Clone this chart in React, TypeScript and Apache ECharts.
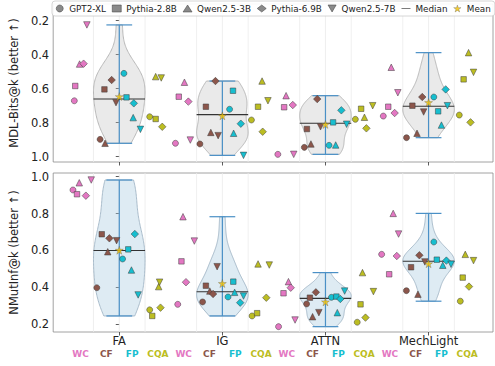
import React, { useEffect, useRef } from "react";
import * as echarts from "echarts";

const METHODS = ["FA", "IG", "ATTN", "MechLight"];
const SUBS = ["WC", "CF", "FP", "CQA"];
const SUB_COLORS = ["#e377c2", "#8c564b", "#17becf", "#bcbd22"];
const SUB_LABEL_OFFSETS = [-0.375, -0.125, 0.125, 0.375];
const MODELS = ["GPT2-XL", "Pythia-2.8B", "Qwen2.5-3B", "Pythia-6.9B", "Qwen2.5-7B"];
const INV_TRI = "path://M0,0L10,0L5,8.66Z";
const STAR = "path://M5,0L6.18,3.6L10,3.6L6.9,5.9L8.1,9.5L5,7.3L1.9,9.5L3.1,5.9L0,3.6L3.82,3.6Z";
const MODEL_SYMBOLS = ["circle", "rect", "triangle", "diamond", INV_TRI];
const MODEL_SIZES = [6, 5.5, 6.5, 7.5, 6.5];
const Y_TICKS = [0.2, 0.4, 0.6, 0.8, 1.0];
const GRID_XS = [-0.25, 0, 0.25, 0.75, 1, 1.25, 1.75, 2, 2.25, 2.75, 3, 3.25];

// values[sub][model], models: GPT2-XL, Pythia-2.8B, Qwen2.5-3B, Pythia-6.9B, Qwen2.5-7B
const MDL_FA = [[0.671, 0.584, 0.455, 0.453, 0.225], [0.898, 0.604, 0.921, 0.549, 0.682], [0.51, 0.651, 0.77, 0.686, 0.839], [0.765, 0.778, 0.529, 0.824, 0.537]];
const MDL_IG = [[0.921, 0.647, 0.562, 0.676, 0.902], [0.925, 0.706, 0.857, 0.555, 0.876], [0.721, 0.612, 0.862, 0.806, 0.992], [0.784, 0.706, 0.555, 0.853, 0.671]];
const MDL_ATTN = [[0.986, 0.709, 0.641, 0.696, 0.986], [0.945, 0.837, 0.925, 0.661, 0.824], [0.933, 0.798, 0.931, 0.727, 0.809], [0.78, 0.718, 0.768, 0.833, 0.7]];
const MDL_MECH = [[0.761, 0.706, 0.474, 0.743, 0.624], [0.888, 0.7, 0.862, 0.649, 0.737], [0.649, 0.733, 0.814, 0.604, 0.7], [0.755, 0.545, 0.388, 0.798, 0.504]];

const NMI_FA = [[0.928, 0.905, 0.967, 0.897, 0.982], [0.398, 0.688, 0.593, 0.666, 0.653], [0.554, 0.606, 0.494, 0.689, 0.359], [0.278, 0.245, 0.404, 0.29, 0.428]];
const NMI_IG = [[0.308, 0.541, 0.783, 0.428, 0.651], [0.321, 0.409, 0.38, 0.364, 0.512], [0.348, 0.431, 0.373, 0.317, 0.353], [0.245, 0.26, 0.527, 0.344, 0.521]];
const NMI_ATTN = [[0.187, 0.368, 0.431, 0.398, 0.223], [0.31, 0.344, 0.241, 0.373, 0.263], [0.346, 0.35, 0.263, 0.337, 0.38], [0.211, 0.308, 0.48, 0.236, 0.377]];
const NMI_MECH = [[0.579, 0.471, 0.801, 0.57, 0.689], [0.382, 0.509, 0.363, 0.574, 0.538], [0.646, 0.55, 0.52, 0.545, 0.525], [0.325, 0.453, 0.579, 0.404, 0.545]];

// horizontal jitter (offset from method centre), [sub][model]
const MDL_FA_X = [[-0.436, -0.427, -0.385, -0.346, -0.314], [-0.186, -0.144, -0.138, -0.074, -0.032], [0.045, 0.07, 0.135, 0.141, 0.205], [0.295, 0.353, 0.353, 0.417, 0.407]];
const MDL_IG_X = [[-0.455, -0.423, -0.368, -0.33, -0.311], [-0.218, -0.16, -0.112, -0.067, -0.041], [0.07, 0.103, 0.109, 0.179, 0.205], [0.282, 0.346, 0.385, 0.391, 0.442]];
const MDL_ATTN_X = [[-0.462, -0.401, -0.382, -0.317, -0.308], [-0.205, -0.18, -0.141, -0.08, -0.048], [0.035, 0.074, 0.099, 0.154, 0.205], [0.29, 0.346, 0.378, 0.397, 0.458]];
const MDL_MECH_X = [[-0.439, -0.391, -0.362, -0.329, -0.298], [-0.214, -0.157, -0.112, -0.061, -0.048], [0.051, 0.093, 0.125, 0.166, 0.183], [0.298, 0.34, 0.388, 0.407, 0.436]];

const NMI_FA_X = [[-0.449, -0.41, -0.388, -0.324, -0.272], [-0.218, -0.17, -0.112, -0.096, -0.026], [0.032, 0.087, 0.118, 0.151, 0.183], [0.295, 0.32, 0.382, 0.4, 0.391]];
const NMI_IG_X = [[-0.433, -0.397, -0.382, -0.353, -0.272], [-0.192, -0.16, -0.122, -0.09, -0.051], [0.055, 0.106, 0.119, 0.173, 0.205], [0.288, 0.337, 0.346, 0.426, 0.455]];
const NMI_ATTN_X = [[-0.455, -0.407, -0.359, -0.337, -0.295], [-0.183, -0.151, -0.125, -0.093, -0.064], [0.058, 0.106, 0.115, 0.144, 0.186], [0.308, 0.34, 0.359, 0.388, 0.465]];
const NMI_MECH_X = [[-0.455, -0.382, -0.343, -0.308, -0.291], [-0.215, -0.17, -0.103, -0.089, -0.036], [0.051, 0.08, 0.138, 0.173, 0.218], [0.308, 0.331, 0.356, 0.392, 0.436]];

const PANELS = [
  {
    name: "MDL-Bits@k (better ↑)",
    values: [MDL_FA, MDL_IG, MDL_ATTN, MDL_MECH],
    xs: [MDL_FA_X, MDL_IG_X, MDL_ATTN_X, MDL_MECH_X],
    yMin: 0.102, yMax: 1.031, inverse: true,
    fill: "rgba(190,190,190,0.33)", stroke: "#b8b8b8",
  },
  {
    name: "NMutInf@k (better ↑)",
    values: [NMI_FA, NMI_IG, NMI_ATTN, NMI_MECH],
    xs: [NMI_FA_X, NMI_IG_X, NMI_ATTN_X, NMI_MECH_X],
    yMin: 0.158, yMax: 1.02, inverse: false,
    fill: "rgba(168,203,224,0.38)", stroke: "#a9bccb",
  },
];

const X_MIN = -0.641;
const X_MAX = 3.625;
const FONT = "DejaVu Sans";

function violinStats(vals: number[]) {
  const n = vals.length;
  const mean = vals.reduce((a, b) => a + b, 0) / n;
  const sd = Math.sqrt(vals.reduce((a, b) => a + (b - mean) ** 2, 0) / (n - 1));
  const bw = sd * Math.pow(n, -0.2);
  const lo = Math.min(...vals);
  const hi = Math.max(...vals);
  const pts: number[][] = [];
  for (let i = 0; i < 100; i++) {
    const y = lo + ((hi - lo) * i) / 99;
    let d = 0;
    for (const v of vals) d += Math.exp(-0.5 * ((y - v) / bw) ** 2);
    pts.push([y, d]);
  }
  const mx = Math.max(...pts.map((p) => p[1]));
  const sorted = [...vals].sort((a, b) => a - b);
  const median = n % 2 ? sorted[(n - 1) / 2] : (sorted[n / 2 - 1] + sorted[n / 2]) / 2;
  return { lo, hi, mean, median, pts: pts.map(([y, d]) => [y, (0.25 * d) / mx]) };
}

function buildOption() {
  const series: any[] = [];
  PANELS.forEach((panel, p) => {
    const stats = panel.values.map((m) => violinStats(m.flat()));
    series.push({
      type: "custom",
      xAxisIndex: p,
      yAxisIndex: p,
      silent: true,
      z: 1,
      data: GRID_XS.map((x) => [x, 0.5]),
      renderItem: (params: any, api: any) => {
        const x = api.value(0);
        const a = api.coord([x, panel.yMin]);
        const b = api.coord([x, panel.yMax]);
        return { type: "line", shape: { x1: a[0], y1: a[1], x2: b[0], y2: b[1] }, style: { stroke: "#ebebeb", lineWidth: 0.8 } };
      },
    });
    series.push({
      type: "custom",
      xAxisIndex: p,
      yAxisIndex: p,
      silent: true,
      z: 2,
      data: stats.map((s, i) => [i, s.median]),
      renderItem: (params: any, api: any) => {
        const i = params.dataIndex;
        const s = stats[i];
        const right = s.pts.map(([y, w]) => api.coord([i + w, y]));
        const left = s.pts.slice().reverse().map(([y, w]) => api.coord([i - w, y]));
        const top = api.coord([i, s.lo]);
        const bot = api.coord([i, s.hi]);
        const c1a = api.coord([i - 0.125, s.lo]);
        const c1b = api.coord([i + 0.125, s.lo]);
        const c2a = api.coord([i - 0.125, s.hi]);
        const c2b = api.coord([i + 0.125, s.hi]);
        const ma = api.coord([i - 0.25, s.median]);
        const mb = api.coord([i + 0.25, s.median]);
        const blue = { stroke: "#4a90c6", lineWidth: 1.2 };
        return {
          type: "group",
          children: [
            { type: "polygon", shape: { points: right.concat(left) }, style: { fill: panel.fill, stroke: panel.stroke, lineWidth: 1 } },
            { type: "line", shape: { x1: top[0], y1: top[1], x2: bot[0], y2: bot[1] }, style: blue },
            { type: "line", shape: { x1: c1a[0], y1: c1a[1], x2: c1b[0], y2: c1b[1] }, style: blue },
            { type: "line", shape: { x1: c2a[0], y1: c2a[1], x2: c2b[0], y2: c2b[1] }, style: blue },
            { type: "line", shape: { x1: ma[0], y1: ma[1], x2: mb[0], y2: mb[1] }, style: { stroke: "#333", lineWidth: 1.1 } },
          ],
        };
      },
    });
    MODELS.forEach((model, k) => {
      const data: any[] = [];
      panel.values.forEach((mv, m) => {
        mv.forEach((sv, s) => {
          data.push({ value: [m + panel.xs[m][s][k], sv[k]], itemStyle: { color: SUB_COLORS[s] } });
        });
      });
      series.push({
        type: "scatter",
        name: model,
        xAxisIndex: p,
        yAxisIndex: p,
        z: 3,
        symbol: MODEL_SYMBOLS[k],
        symbolSize: MODEL_SIZES[k],
        itemStyle: { color: "#8a8a8a", borderColor: "#3a3a3a", borderWidth: 0.5, opacity: 1 },
        data,
      });
    });
    series.push({
      type: "scatter",
      name: "Mean",
      xAxisIndex: p,
      yAxisIndex: p,
      z: 4,
      symbol: STAR,
      symbolSize: 8,
      itemStyle: { color: "#f2c200", borderColor: "#555", borderWidth: 0.4 },
      data: stats.map((s, i) => [i, s.mean]),
    });
  });
  series.push({ type: "line", name: "Median", xAxisIndex: 0, yAxisIndex: 0, data: [], itemStyle: { color: "#333" }, lineStyle: { color: "#333" } });

  const subValues: number[] = [];
  const subNames: number[] = [];
  METHODS.forEach((_, m) => SUB_LABEL_OFFSETS.forEach((o, s) => { subValues.push(m + o); subNames.push(s); }));
  const rich: any = {};
  SUBS.forEach((n, s) => { rich["s" + s] = { color: SUB_COLORS[s], fontWeight: "bold", fontSize: 9, fontFamily: FONT }; });

  const baseX = (gridIndex: number, showLabels: boolean) => ({
    type: "value",
    gridIndex,
    min: X_MIN,
    max: X_MAX,
    axisLine: { show: false },
    splitLine: { show: false },
    axisTick: { show: true, customValues: [0, 1, 2, 3], length: 3.5, lineStyle: { color: "#333", width: 0.8 } },
    axisLabel: {
      show: showLabels,
      customValues: [0, 1, 2, 3],
      margin: 3,
      fontSize: 11.5,
      color: "#222",
      fontFamily: FONT,
      formatter: (v: number) => METHODS[Math.round(v)] ?? "",
    },
  });

  const yAxes = PANELS.map((panel, p) => ({
    type: "value",
    gridIndex: p,
    min: panel.yMin,
    max: panel.yMax,
    inverse: panel.inverse,
    name: panel.name,
    nameLocation: "middle",
    nameGap: 31,
    nameTextStyle: { fontSize: 11.5, color: "#222", fontFamily: FONT },
    axisLine: { show: false },
    splitLine: { show: false },
    axisTick: { show: true, customValues: Y_TICKS, length: 3.5, lineStyle: { color: "#333", width: 0.8 } },
    axisLabel: { customValues: Y_TICKS, margin: 4, fontSize: 11.5, color: "#222", fontFamily: FONT, formatter: (v: number) => v.toFixed(1) },
  }));

  const legendIcons = MODEL_SYMBOLS.concat(["path://M0,0L14,0L14,1L0,1Z", STAR]);
  const legendNames = MODELS.concat(["Median", "Mean"]);

  return {
    animation: false,
    textStyle: { fontFamily: FONT },
    grid: [
      { left: 50, right: 2, top: 4, height: 158, show: true, borderColor: "#8c8c8c", borderWidth: 0.8, backgroundColor: "transparent" },
      { left: 50, right: 2, top: 173, height: 159, show: true, borderColor: "#8c8c8c", borderWidth: 0.8, backgroundColor: "transparent" },
    ],
    legend: {
      left: 52,
      top: 1,
      width: 470,
      selectedMode: false,
      itemWidth: 9,
      itemHeight: 7,
      itemGap: 6,
      padding: [3, 4],
      backgroundColor: "rgba(255,255,255,0.92)",
      borderColor: "#cccccc",
      borderWidth: 0.8,
      borderRadius: 3,
      textStyle: { fontSize: 8.8, color: "#222", fontFamily: FONT },
      data: legendNames.map((n, i) => ({
        name: n,
        icon: legendIcons[i],
        itemStyle: i === 5 ? { color: "#333" } : i === 6 ? { color: "#f2c200", borderColor: "#555", borderWidth: 0.4 } : { color: "#8a8a8a", borderColor: "#3a3a3a", borderWidth: 0.5 },
      })),
    },
    xAxis: [
      baseX(0, false),
      baseX(1, true),
      {
        type: "value",
        gridIndex: 1,
        min: X_MIN,
        max: X_MAX,
        position: "bottom",
        axisLine: { show: false },
        splitLine: { show: false },
        axisTick: { show: false },
        axisLabel: {
          customValues: subValues,
          margin: 17,
          fontSize: 9,
          formatter: (v: number) => {
            let best = 0;
            subValues.forEach((sv, i) => { if (Math.abs(sv - v) < Math.abs(subValues[best] - v)) best = i; });
            const s = subNames[best];
            return `{s${s}|${SUBS[s]}}`;
          },
          rich,
        },
      },
    ],
    yAxis: yAxes,
    series,
  };
}

export default function App() {
  const ref = useRef<HTMLDivElement>(null);
  useEffect(() => {
    document.body.style.margin = "0";
    const chart = echarts.init(ref.current!, undefined, { renderer: "svg" });
    chart.setOption(buildOption() as any);
    return () => chart.dispose();
  }, []);
  return <div ref={ref} style={{ width: 495, height: 366 }} />;
}
